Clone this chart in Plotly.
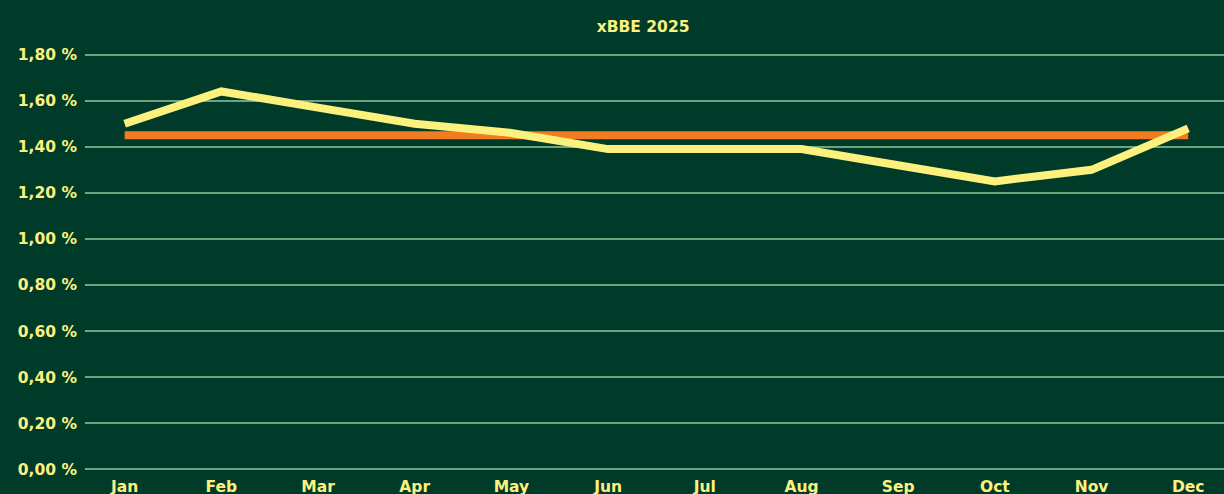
import plotly.graph_objects as go

months = ["Jan", "Feb", "Mar", "Apr", "May", "Jun", "Jul", "Aug", "Sep", "Oct", "Nov", "Dec"]
xbbe = [1.50, 1.64, 1.57, 1.50, 1.46, 1.39, 1.39, 1.39, 1.32, 1.25, 1.30, 1.48]
target = [1.45] * 12
y_ticks = [0.0, 0.2, 0.4, 0.6, 0.8, 1.0, 1.2, 1.4, 1.6, 1.8]
y_tick_text = ["0,00 %", "0,20 %", "0,40 %", "0,60 %", "0,80 %", "1,00 %", "1,20 %", "1,40 %", "1,60 %", "1,80 %"]

BG = "#003b2a"
YEL = "#fdf17e"
ORANGE = "#f47c20"
GRID = "#6aa57f"
FONT = "DejaVu Sans"

x = list(range(len(months)))

fig = go.Figure()
fig.add_trace(go.Scatter(x=x, y=target, mode="lines", line=dict(color=ORANGE, width=8),
                         name="Target", hoverinfo="skip"))
fig.add_trace(go.Scatter(x=x, y=xbbe, mode="lines", line=dict(color=YEL, width=8),
                         name="xBBE"))

fig.update_layout(
    width=1224, height=494,
    paper_bgcolor=BG, plot_bgcolor=BG,
    margin=dict(l=85, r=0, t=50, b=20, autoexpand=False),
    showlegend=False,
    title=dict(text="<b>xBBE 2025</b>", x=0.49, xref="paper", y=0.947, yanchor="middle",
               font=dict(family=FONT, size=15.5, color=YEL)),
    font=dict(family=FONT, color=YEL),
    xaxis=dict(range=[-0.41, 11.37], tickvals=x, ticktext=["<b>%s</b>" % m for m in months],
               showgrid=False, zeroline=False, showline=False, ticks="",
               ticklabelstandoff=1, automargin=False,
               tickfont=dict(family=FONT, size=15.5, color=YEL)),
    yaxis=dict(range=[-0.02, 1.82], tickvals=y_ticks, ticktext=["<b>%s</b>" % t for t in y_tick_text],
               showgrid=True, gridcolor=GRID, gridwidth=1.5, zeroline=False, showline=False,
               ticks="", ticklabelstandoff=7, automargin=False,
               tickfont=dict(family=FONT, size=15.5, color=YEL)),
)

fig.write_html("out.html", config={"displayModeBar": False},
               post_script="document.body.style.margin='0';document.body.style.overflow='hidden';")
